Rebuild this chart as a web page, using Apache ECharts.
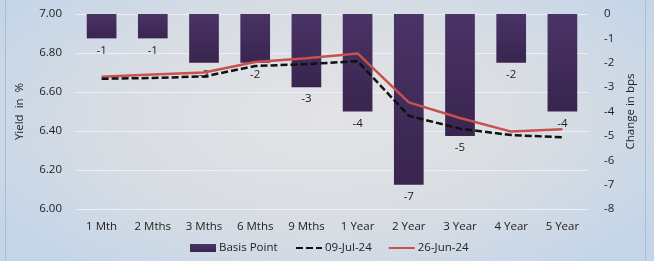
<!DOCTYPE html>
<html>
<head>
<meta charset="utf-8">
<script src="https://cdn.jsdelivr.net/npm/echarts@6/dist/echarts.min.js"></script>
<style>
html, body { margin: 0; padding: 0; }
body {
	width: 654px; height: 261px; overflow: hidden; position: relative;
	background: radial-gradient(ellipse 60% 75% at 50% 45%, #e3e3e5 0%, #d8dde3 55%, #c4d5e9 100%);
}
.frame {
	position: absolute; left: 5px; top: -2px; width: 639px; height: 270px;
	border-left: 1px solid #aebdce; border-right: 1px solid #aebdce;
}
#chart { position: absolute; left: 0; top: 0; width: 654px; height: 261px; }
</style>
</head>
<body>
<div class="frame"></div>
<div id="chart"></div>
<script>
// tenors on the x axis
const tenors = ['1 Mth', '2 Mths', '3 Mths', '6 Mths', '9 Mths', '1 Year', '2 Year', '3 Year', '4 Year', '5 Year'];
// change in bps (right axis)
const basisPoint = [-1, -1, -2, -2, -3, -4, -7, -5, -2, -4];
// yields in % (left axis)
const yieldJul09 = [6.668, 6.672, 6.68, 6.733, 6.743, 6.758, 6.478, 6.412, 6.379, 6.368];
const yieldJun26 = [6.678, 6.69, 6.70, 6.754, 6.773, 6.798, 6.547, 6.467, 6.397, 6.409];

const fontFam = '"Open Sans", "Noto Sans", sans-serif';
const legendText = { fontSize: 11.5, color: '#222', fontFamily: fontFam, padding: [0, 0, 0, -2] };

let chart = echarts.init(document.getElementById('chart'));
chart.setOption({
	animation: false,
	textStyle: { fontFamily: fontFam, color: '#222' },
	grid: { left: 76, right: 66, top: 14, bottom: 52 },
	legend: [
		{
			bottom: 2,
			left: 185,
			itemWidth: 26,
			itemHeight: 8,
			textStyle: legendText,
			data: [{ name: 'Basis Point', icon: 'rect' }]
		},
		{
			bottom: 2,
			left: 290,
			itemGap: 16,
			itemWidth: 26,
			itemHeight: 8,
			textStyle: legendText,
			// hide the marker, keep only the series line
			itemStyle: { opacity: 0 },
			data: ['09-Jul-24', '26-Jun-24']
		}
	],
	xAxis: {
		type: 'category',
		data: tenors,
		axisLine: { show: false },
		axisTick: { show: false },
		axisLabel: { fontSize: 11.5, color: '#222', margin: 12 }
	},
	yAxis: [
		{
			type: 'value',
			min: 6, max: 7, interval: 0.2,
			name: 'Yield  in  %',
			nameLocation: 'middle',
			nameGap: 50,
			nameTextStyle: { fontSize: 11.5, color: '#222' },
			axisLabel: { fontSize: 11.5, color: '#222', margin: 14, formatter: (v) => v.toFixed(2) },
			splitLine: { lineStyle: { color: '#e9f0f8', width: 1 } },
			axisLine: { show: false },
			axisTick: { show: false }
		},
		{
			type: 'value',
			min: -8, max: 0, interval: 1,
			name: 'Change in bps',
			nameLocation: 'middle',
			nameGap: 32,
			nameTextStyle: { fontSize: 11.5, color: '#222' },
			axisLabel: { fontSize: 11.5, color: '#222', margin: 16 },
			splitLine: { show: false },
			axisLine: { show: false },
			axisTick: { show: false }
		}
	],
	series: [
		{
			name: 'Basis Point',
			type: 'bar',
			yAxisIndex: 1,
			data: basisPoint,
			barWidth: '58%',
			itemStyle: {
				color: new echarts.graphic.LinearGradient(0, 0, 0, 1, [
					{ offset: 0, color: '#4a3366' },
					{ offset: 1, color: '#39254f' }
				])
			},
			label: {
				show: true,
				position: 'bottom',
				distance: 6,
				fontSize: 11.5,
				color: '#222'
			},
			z: 2
		},
		{
			name: '09-Jul-24',
			type: 'line',
			yAxisIndex: 0,
			data: yieldJul09,
			symbol: 'none',
			lineStyle: { color: '#111', width: 2.5, type: [7, 3] },
			itemStyle: { color: '#111' },
			z: 4
		},
		{
			name: '26-Jun-24',
			type: 'line',
			yAxisIndex: 0,
			data: yieldJun26,
			symbol: 'none',
			lineStyle: { color: '#c8504d', width: 2.5 },
			itemStyle: { color: '#c8504d' },
			z: 3
		}
	]
});
</script>
</body>
</html>
